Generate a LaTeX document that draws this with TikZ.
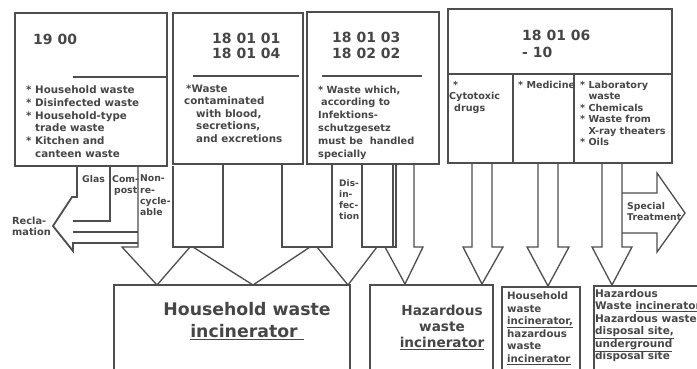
\documentclass[tikz,border=0pt]{standalone}
\usepackage{fontspec}
\setmainfont{DejaVu Sans}
\definecolor{ink}{RGB}{70,70,70}
\definecolor{edge}{RGB}{78,78,78}
\begin{document}
\begin{tikzpicture}[x=1pt,y=-1pt,
  box/.style={draw=edge,line width=1.4pt,anchor=north west,inner sep=0pt,outer sep=0pt},
  flow/.style={draw=edge,line width=1.3pt,line join=miter},
  txt/.style={anchor=north west,inner sep=0pt,align=left,text=ink,font=\bfseries},
  code/.style={txt,font=\fontsize{14}{15.5}\selectfont\bfseries},
  body/.style={txt,font=\fontsize{10.3}{12.8}\selectfont\bfseries},
  small/.style={txt,font=\fontsize{9.6}{11.4}\selectfont\bfseries},
  lab/.style={txt,font=\fontsize{9.3}{11.3}\selectfont\bfseries}]
\useasboundingbox (0,0) rectangle (697,368);
\clip (0,0) rectangle (697,368);
\fill[white] (0,0) rectangle (697,368);

% ---------- top boxes ----------
\node[box,minimum width=152pt,minimum height=153pt] (b1) at (15,13) {};
\node[box,minimum width=130pt,minimum height=151pt] (b2) at (173,13) {};
\node[box,minimum width=132pt,minimum height=152pt] (b3) at (307,12) {};
\node[box,minimum width=224pt,minimum height=154pt] (b4) at (448,9) {};
\draw[flow] (73,77) -- (167,77);
\draw[flow] (193,76) -- (299,76);
\draw[flow] (322,76) -- (422,76);
\draw[flow] (448,74) -- (672,74);
\draw[flow] (513,74) -- (513,163);
\draw[flow] (574,74) -- (574,163);

\node[code] (c1) at (33,34) {19 00};
\node[code] (c2) at (212,32.5) {18 01 01\\18 01 04};
\node[code] (c3) at (332,32) {18 01 03\\18 02 02};
\node[code,font=\fontsize{14}{16.5}\selectfont\bfseries] (c4) at (522,30) {18 01 06\\- 10};

\node[body] (t1) at (26,85.5) {* Household waste\\* Disinfected waste\\* Household-type\\\phantom{* }trade waste\\* Kitchen and\\\phantom{* }canteen waste};
\node[body,font=\fontsize{10.3}{12.5}\selectfont\bfseries] (t2) at (184,84.5) {\hspace*{2pt}*Waste\\contaminated\\\hspace*{12pt}with blood,\\\hspace*{12pt}secretions,\\\hspace*{12pt}and excretions};
\node[body,font=\fontsize{9.8}{12.8}\selectfont\bfseries] (t3) at (318,85.5) {* Waste which,\\\hspace*{3pt}according to\\Infektions-\\schutzgesetz\\must be\ \ handled\\specially};
\node[small] (t41) at (449,81) {\hspace*{4pt}*\\Cytotoxic\\\hspace*{5pt}drugs};
\node[small] (t42) at (518,81) {* Medicine};
\node[small] (t43) at (580,81) {* Laboratory\\\phantom{* }waste\\* Chemicals\\* Waste from\\\phantom{* }X-ray theaters\\* Oils};

% ---------- reclamation arrow ----------
\draw[flow,line width=1.8pt] (77,166) -- (77,197) -- (72,197) -- (53,226) -- (73,251) -- (73,243) -- (138,243);
\draw[flow] (110,166) -- (110,221) -- (73,221);
\draw[flow,line width=1.6pt] (73,232) -- (138,232);
\node[lab] (glas) at (82,175) {Glas};
\node[lab] (comp) at (112,175) {Com-\\\hspace*{2pt}post};
\node[lab] (nonr) at (140,175) {Non-\\re-\\cycle-\\able};
\node[lab,font=\fontsize{9.8}{11}\selectfont\bfseries] (recl) at (12,217) {Recla-\\mation};

% ---------- arrows to household incinerator ----------
\draw[flow] (138,166) -- (138,247) -- (122,247) -- (157,285) -- (190,247);
\draw[flow] (173,166) -- (173,247) -- (223,247) -- (223,164);
\draw[flow] (193,247) -- (253,285) -- (310,247);
\draw[flow] (282,164) -- (282,247) -- (332,247) -- (332,164);
\draw[flow] (317,247) -- (348,285) -- (377,247);
\draw[flow] (362,164) -- (362,247) -- (396,247) -- (396,164);
\draw[flow] (393,164) -- (393,247);
\node[lab,font=\fontsize{9}{11.3}\selectfont\bfseries] (dis) at (339,179) {Dis-\\in-\\fec-\\tion};

% ---------- arrows to hazardous / others ----------
\draw[flow] (385,247) -- (405,284) -- (423,247) -- (414,247) -- (414,164);
\draw[flow] (472,163) -- (472,247) -- (463,247) -- (482,284) -- (503,247) -- (492,247) -- (492,163);
\draw[flow] (538,163) -- (538,247) -- (527,247) -- (548,286) -- (569,247) -- (558,247) -- (558,163);
\draw[flow] (602,163) -- (602,247) -- (592,247) -- (612,285) -- (632,247) -- (622,247) -- (622,163);
\draw[flow] (622,193) -- (657,193) -- (657,173) -- (685,213) -- (657,252) -- (657,233) -- (622,233);
\node[lab] (spec) at (627,202) {Special\\Treatment};

% ---------- bottom boxes ----------
\node[box,minimum width=236pt,minimum height=100pt] (hwi) at (114,285) {};
\node[box,minimum width=123pt,minimum height=100pt] (hzi) at (370,285) {};
\node[box,minimum width=78pt,minimum height=100pt] (mix) at (502,287) {};
\node[box,minimum width=130pt,minimum height=100pt] (spc) at (594,286) {};

\node[txt,anchor=north,align=center,font=\fontsize{17.3}{21.5}\selectfont\bfseries] (hwit) at (247,302.5) {Household waste\\\underline{incinerator\ }};
\node[txt,anchor=north,align=center,font=\fontsize{13.6}{16.3}\selectfont\bfseries] (hzit) at (442,304.5) {Hazardous\\waste\\\underline{incinerator}};
\node[txt,font=\fontsize{10.2}{12.6}\selectfont\bfseries] (mixt) at (507,291.5) {Household\\waste\\\underline{incinerator,}\\hazardous\\waste\\\underline{incinerator}};
\node[txt,font=\fontsize{10.5}{12.5}\selectfont\bfseries] (spct) at (595,289) {Hazardous\\Waste \underline{incinerator}\\Hazardous waste\\\underline{disposal site,}\\\underline{underground}\\disposal site};
\end{tikzpicture}
\end{document}
